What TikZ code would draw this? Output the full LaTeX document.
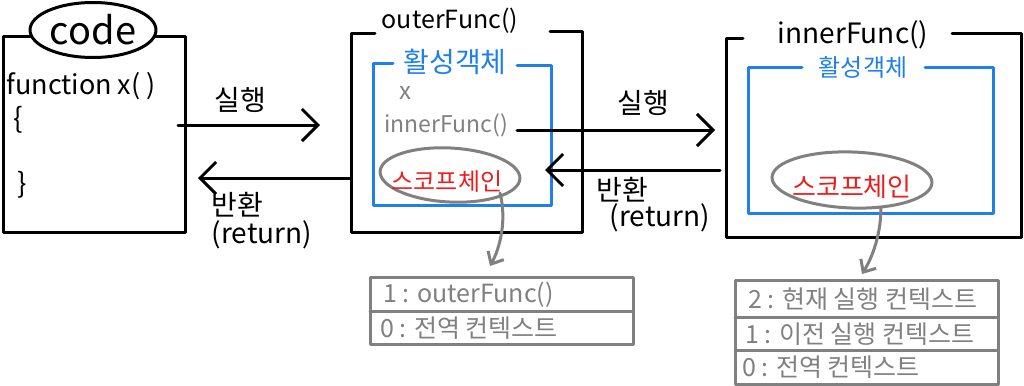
\documentclass[tikz,border=0pt]{standalone}
\usepackage{fontspec}
\setmainfont{Noto Sans CJK KR}
\usetikzlibrary{arrows.meta,shapes.geometric}
\definecolor{ablue}{RGB}{30,128,232}
\definecolor{ared}{RGB}{235,30,30}
\definecolor{agray}{RGB}{128,128,128}
\begin{document}
\begin{tikzpicture}[x=0.5pt,y=-0.5pt, line join=round, line cap=round,
  blk/.style={draw=black,line width=1.5pt},
  blu/.style={draw=ablue,line width=1.5pt},
  gry/.style={draw=agray,line width=1.5pt},
  tipbig/.style={-{Straight Barb[length=8pt,width=16pt,line width=1.5pt]}},
  tipsmall/.style={-{Straight Barb[length=5pt,width=9pt,line width=1.5pt]}},
  lbl/.style={inner sep=0pt, font=\fontsize{14}{16}\selectfont},
  stk/.style={inner sep=0pt, anchor=west, text=agray, font=\fontsize{12.5}{14}\selectfont}
]
\useasboundingbox (0,0) rectangle (1024,386);

% ---- code box ----
\draw[blk] (3,36) rectangle (185,232);
\node[draw, ellipse, line width=1.5pt, fill=white, minimum width=63pt, minimum height=27.5pt, inner sep=0pt, font=\fontsize{19}{20}\selectfont] (code) at (93,30) {code};
\node[lbl, anchor=west, font=\fontsize{13.5}{16}\selectfont] (fx) at (6,86) {function x( )};
\node[lbl] (ob) at (18,120) {\{};
\node[lbl] (cb) at (22,185) {\}};

% ---- arrows between code and outer ----
\coordinate (r1s) at (178,125);
\coordinate (r1e) at (320,125);
\draw[blk,tipbig] (r1s) -- (r1e);
\node[lbl] (ex1) at (240,100) {실행};
\coordinate (b1s) at (350,178);
\coordinate (b1e) at (198,178);
\draw[blk,tipbig] (b1s) -- (b1e);
\node[lbl] (rt1) at (237,205) {반환};
\node[lbl] (rt1b) at (262,235) {(return)};

% ---- outerFunc box ----
\draw[blk] (375,33) -- (351,33) -- (351,232) -- (582,232) -- (582,31) -- (550,31);
\node[lbl, font=\fontsize{12.5}{14}\selectfont] (outer) at (450,21) {outerFunc()};
\draw[blu] (393,63) -- (373,63) -- (373,205) -- (551,205) -- (551,65) -- (517,65);
\node[lbl, text=ablue, font=\fontsize{14}{16}\selectfont] (ao1) at (455,62) {활성객체};
\node[lbl, text=agray, font=\fontsize{12}{14}\selectfont] (vx) at (405,93) {x};
\node[lbl, text=agray, anchor=west, font=\fontsize{11.5}{14}\selectfont] (inf) at (384,125) {innerFunc()};
\node[ellipse, gry, minimum width=70pt, minimum height=27pt, inner sep=0pt, rotate=-3] (sc1) at (450,175) {};
\node[lbl, text=ared, font=\fontsize{12}{14}\selectfont] (sct1) at (447,182) {스코프체인};

% ---- arrows between outer and inner ----
\coordinate (r2s) at (517,130);
\coordinate (r2e) at (715,130);
\draw[blk,tipbig] (r2s) -- (r2e);
\node[lbl] (ex2) at (643,103) {실행};
\coordinate (b2s) at (720,170);
\coordinate (b2e) at (545,170);
\draw[blk,tipbig] (b2s) -- (b2e);
\node[lbl] (rt2) at (622,190) {반환};
\node[lbl] (rt2b) at (660,218) {(return)};

% ---- innerFunc box ----
\draw[blk] (743,38) -- (726,38) -- (726,237) -- (1021,237) -- (1021,33) -- (952,33);
\node[lbl, font=\fontsize{14}{16}\selectfont] (inner) at (853,35) {innerFunc()};
\draw[blu] (802,67) -- (748,67) -- (748,213) -- (993,213) -- (993,67) -- (925,67);
\node[lbl, text=ablue, font=\fontsize{12}{14}\selectfont] (ao2) at (863,67) {활성객체};
\node[ellipse, gry, minimum width=80pt, minimum height=28pt, inner sep=0pt, rotate=-2] (sc2) at (852,180) {};
\node[lbl, text=ared, font=\fontsize{13}{15}\selectfont] (sct2) at (852,187) {스코프체인};

% ---- stacks ----
\draw[gry] (370,277) rectangle (633,344);
\draw[gry] (370,311) -- (633,311);
\node[stk] (s11) at (383,295) {1 : outerFunc()};
\node[stk] (s10) at (380,328) {0 : 전역 컨텍스트};

\draw[gry] (735,280) rectangle (998,384);
\draw[gry] (735,317) -- (998,317);
\draw[gry] (735,350) -- (998,350);
\node[stk] (s22) at (748,299) {2 : 현재 실행 컨텍스트};
\node[stk] (s21) at (745,334) {1 : 이전 실행 컨텍스트};
\node[stk] (s20) at (742,367) {0 : 전역 컨텍스트};

% ---- scope chain pointers ----
\coordinate (p1s) at (500,193);
\coordinate (p1e) at (490,266);
\draw[gry,tipsmall] (p1s) .. controls (507,220) and (500,248) .. (p1e);
\coordinate (p2s) at (881,207);
\coordinate (p2e) at (862,274);
\draw[gry,tipsmall] (p2s) .. controls (881,235) and (872,258) .. (p2e);
\end{tikzpicture}
\end{document}
